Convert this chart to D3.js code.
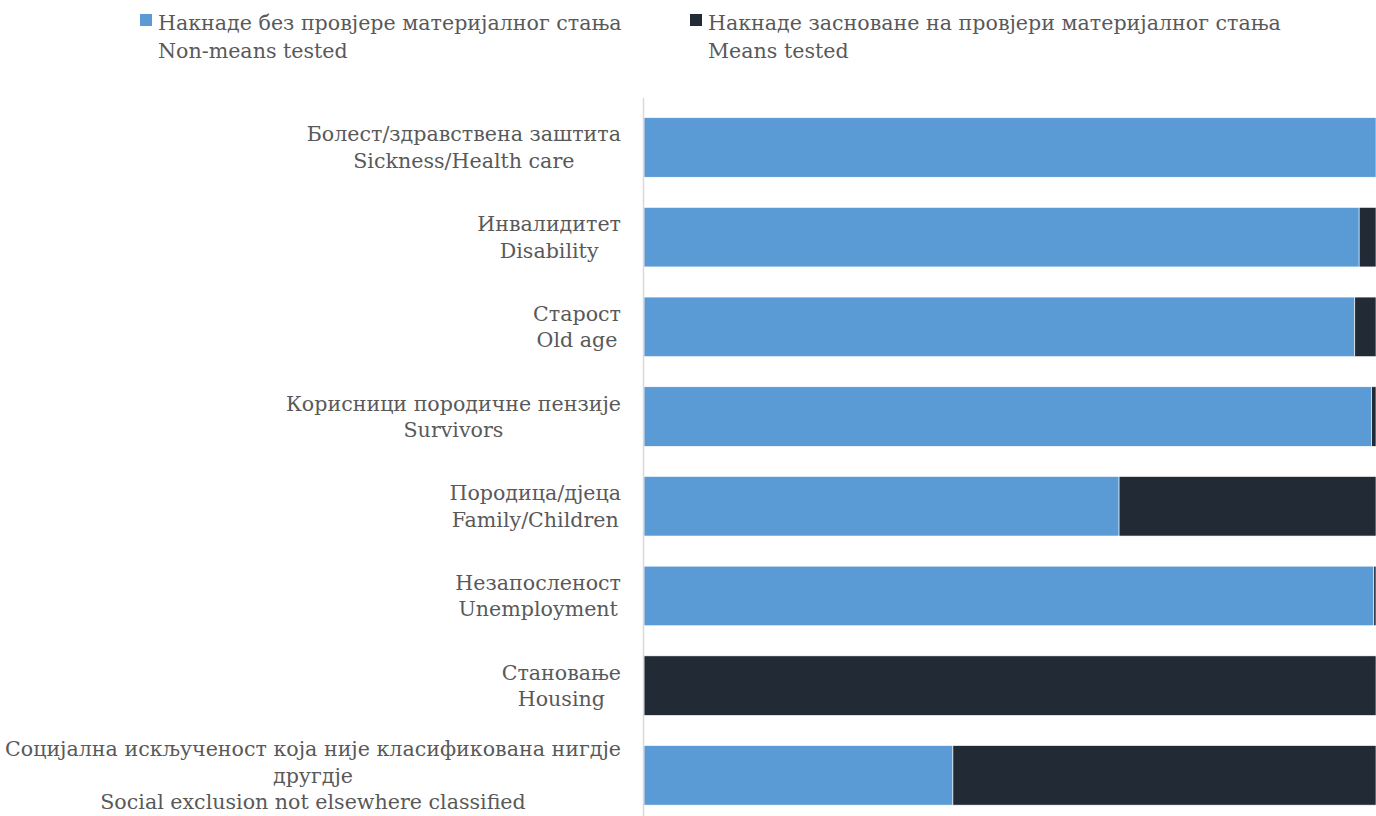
<!DOCTYPE html>
<html><head><meta charset="utf-8">
<script src="https://cdn.jsdelivr.net/npm/d3@7"></script>
<style>body{margin:0;background:#fff;}svg{display:block;}</style>
</head><body>
<svg id="c" width="1376" height="816"></svg>
<script>
const categories = [
  ["Болест/здравствена заштита","Sickness/Health care"],
  ["Инвалидитет","Disability"],
  ["Старост","Old age"],
  ["Корисници породичне пензије","Survivors"],
  ["Породица/дјеца","Family/Children"],
  ["Незапосленост","Unemployment"],
  ["Становање","Housing"],
  ["Социјална искљученост која није класификована нигдје","другдје","Social exclusion not elsewhere classified"]
];
const seriesNames = [
  ["Накнаде без провјере материјалног стања","Non-means tested"],
  ["Накнаде засноване на провјери материјалног стања","Means tested"]
];
const nonMeans = [100, 97.7, 97.1, 99.4, 64.9, 99.7, 0, 42.2];
const means    = [0, 2.3, 2.9, 0.6, 35.1, 0.3, 100, 57.8];
const colors = ["#5B9BD5", "#222A35"];

const svg = d3.select("#c");
const font = "'DejaVu Serif', serif";
const fs = 20.6;
const textColor = "#595959";

const x = d3.scaleLinear().domain([0, 100]).range([644, 1376]);
const y = d3.scaleBand().domain(d3.range(categories.length)).range([102.6, 820.2]).paddingInner(0.336).paddingOuter(0.168);

const stackData = categories.map((c, i) => ({i, a: nonMeans[i], b: means[i]}));
const stack = d3.stack().keys(["a", "b"])(stackData);

svg.append("g").selectAll("g").data(stack).join("g")
  .attr("fill", (d, k) => colors[k])
  .selectAll("rect").data(d => d).join("rect")
  .attr("x", d => x(d[0]))
  .attr("width", d => Math.max(0, x(d[1]) - x(d[0])))
  .attr("y", d => y(d.data.i))
  .attr("height", y.bandwidth())
  .attr("stroke", "#ffffff").attr("stroke-width", 0.6);

// axis line
svg.append("line").attr("x1", 643.5).attr("x2", 643.5).attr("y1", 98).attr("y2", 816)
  .attr("stroke", "#d9d9d9").attr("stroke-width", 1.5);

// category labels
const lh = 26.5;
const lab = svg.append("g").attr("font-family", font).attr("font-size", fs).attr("fill", textColor);
categories.forEach((lines, i) => {
  const g = lab.append("g");
  const t = g.append("text").attr("text-anchor", "middle");
  const cy = y(i) + y.bandwidth() / 2;
  const y0 = cy - (lines.length - 1) * lh / 2;
  lines.forEach((l, j) => {
    t.append("tspan").attr("x", 0).attr("y", y0 + j * lh).attr("dy", "0.35em").text(l);
  });
  const w = t.node().getBBox().width;
  g.attr("transform", `translate(${621 - w / 2},0)`);
});

// legend
const legX = [140, 690];
const leg = svg.append("g").attr("font-family", font).attr("font-size", fs).attr("fill", textColor);
seriesNames.forEach((s, k) => {
  leg.append("rect").attr("x", legX[k]).attr("y", 14).attr("width", 12).attr("height", 12).attr("fill", colors[k]);
  const t = leg.append("text");
  s.forEach((l, j) => t.append("tspan").attr("x", legX[k] + 18).attr("y", 22.5 + j * 28).attr("dy", "0.35em").text(l));
});
</script>
</body></html>
